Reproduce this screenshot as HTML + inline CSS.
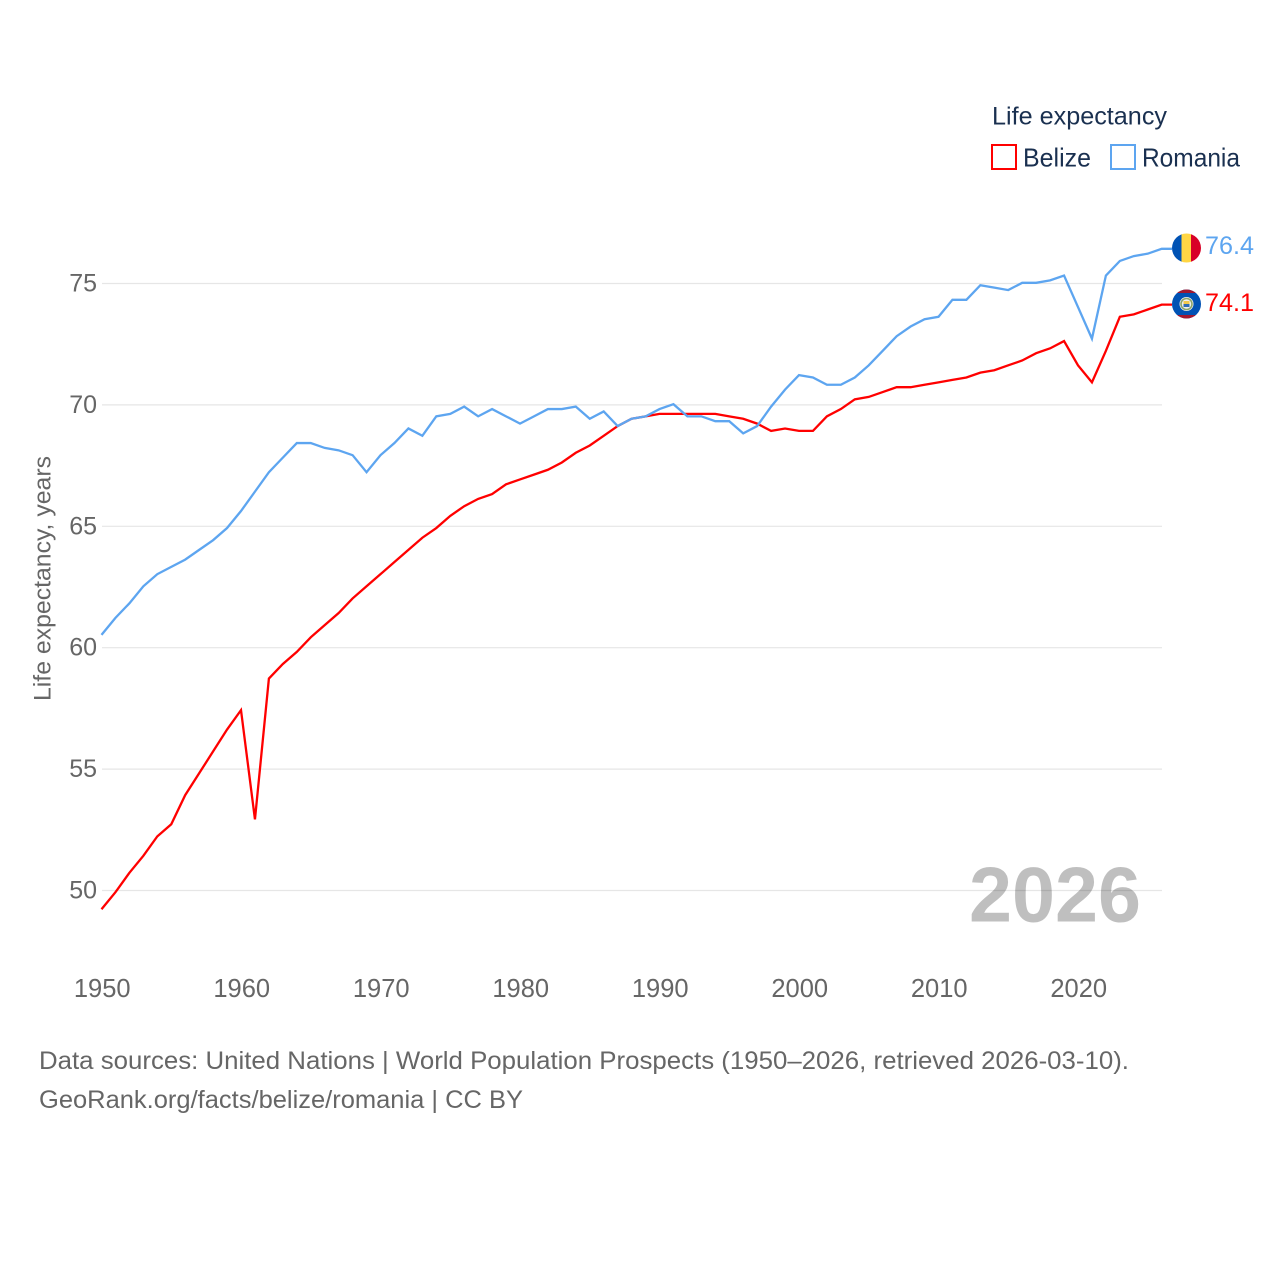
<!DOCTYPE html>
<html lang="en">
<head>
<meta charset="utf-8">
<title>Life expectancy: Belize and Romania</title>
<style>
html,body{margin:0;padding:0;background:#fff;}
svg{display:block;font-family:"Liberation Sans",sans-serif;}
</style>
</head>
<body>
<svg id="chart" width="1280" height="1280" viewBox="0 0 1280 1280" xmlns="http://www.w3.org/2000/svg">
  <rect width="1280" height="1280" fill="#fff"/>
  <g id="grid"></g>
  <g id="y-ticks"></g>
  <g id="x-ticks"></g>
  <text transform="translate(50.5,701) rotate(-90)" font-size="24" fill="#666" textLength="245" lengthAdjust="spacingAndGlyphs">Life expectancy, years</text>
  <text x="969" y="921.5" font-size="78" font-weight="700" fill="#000" fill-opacity="0.25" textLength="172" lengthAdjust="spacingAndGlyphs">2026</text>
  <g id="series" transform="translate(0,-0.7)"></g>

  <g>
    <text x="992" y="124.5" font-size="25" fill="#1a3050" textLength="175" lengthAdjust="spacingAndGlyphs">Life expectancy</text>
    <rect x="992" y="145" width="24" height="24" fill="none" stroke="#ff0000" stroke-width="2"/>
    <text x="1023" y="166.5" font-size="26" fill="#1a3050" textLength="68" lengthAdjust="spacingAndGlyphs">Belize</text>
    <rect x="1111" y="145" width="24" height="24" fill="none" stroke="#5da5f0" stroke-width="2"/>
    <text x="1142" y="166.5" font-size="26" fill="#1a3050" textLength="98" lengthAdjust="spacingAndGlyphs">Romania</text>
  </g>

  <defs>
    <clipPath id="flag-clip-ro"><circle cx="1186.5" cy="248" r="14.5"/></clipPath>
    <clipPath id="flag-clip-bz"><circle cx="1186.5" cy="304" r="14.5"/></clipPath>
  </defs>
  <g clip-path="url(#flag-clip-ro)">
    <rect x="1172" y="233" width="10" height="30" fill="#0052b4"/>
    <rect x="1181.5" y="233" width="10" height="30" fill="#ffd644"/>
    <rect x="1191" y="233" width="11" height="30" fill="#d80027"/>
  </g>
  <g clip-path="url(#flag-clip-bz)">
    <rect x="1172" y="289" width="30" height="30" fill="#0052b4"/>
    <rect x="1172" y="289" width="30" height="4" fill="#a2182f"/>
    <rect x="1172" y="315" width="30" height="4" fill="#a2182f"/>
    <circle cx="1186.5" cy="304" r="7" fill="#f0f0f0"/>
    <circle cx="1186.5" cy="304" r="5.5" fill="none" stroke="#8aa66a" stroke-width="1.6"/>
    <rect x="1183.5" y="301" width="6" height="3" fill="#f2c94c"/>
    <rect x="1183.5" y="304" width="6" height="3" fill="#2f6db5"/>
  </g>
  <text x="1205" y="254" font-size="25" fill="#5da5f0" textLength="49" lengthAdjust="spacingAndGlyphs">76.4</text>
  <text x="1205" y="311" font-size="25" fill="#ff0000" textLength="49" lengthAdjust="spacingAndGlyphs">74.1</text>

  <g>
    <text x="39" y="1069" font-size="25" fill="#666" textLength="1090" lengthAdjust="spacingAndGlyphs">Data sources: United Nations | World Population Prospects (1950–2026, retrieved 2026-03-10).</text>
    <text x="39" y="1108" font-size="25" fill="#666" textLength="484" lengthAdjust="spacingAndGlyphs">GeoRank.org/facts/belize/romania | CC BY</text>
  </g>
</svg>
<script>
var startYear = 1950;
var yTickValues = [50, 55, 60, 65, 70, 75];
var xTickValues = [1950, 1960, 1970, 1980, 1990, 2000, 2010, 2020];
var belizeValues = [
  49.2, 49.9, 50.7, 51.4, 52.2, 52.7, 53.9, 54.8, 55.7, 56.6,
  57.4, 52.9, 58.7, 59.3, 59.8, 60.4, 60.9, 61.4, 62.0, 62.5,
  63.0, 63.5, 64.0, 64.5, 64.9, 65.4, 65.8, 66.1, 66.3, 66.7,
  66.9, 67.1, 67.3, 67.6, 68.0, 68.3, 68.7, 69.1, 69.4, 69.5,
  69.6, 69.6, 69.6, 69.6, 69.6, 69.5, 69.4, 69.2, 68.9, 69.0,
  68.9, 68.9, 69.5, 69.8, 70.2, 70.3, 70.5, 70.7, 70.7, 70.8,
  70.9, 71.0, 71.1, 71.3, 71.4, 71.6, 71.8, 72.1, 72.3, 72.6,
  71.6, 70.9, 72.2, 73.6, 73.7, 73.9, 74.1
];
var romaniaValues = [
  60.5, 61.2, 61.8, 62.5, 63.0, 63.3, 63.6, 64.0, 64.4, 64.9,
  65.6, 66.4, 67.2, 67.8, 68.4, 68.4, 68.2, 68.1, 67.9, 67.2,
  67.9, 68.4, 69.0, 68.7, 69.5, 69.6, 69.9, 69.5, 69.8, 69.5,
  69.2, 69.5, 69.8, 69.8, 69.9, 69.4, 69.7, 69.1, 69.4, 69.5,
  69.8, 70.0, 69.5, 69.5, 69.3, 69.3, 68.8, 69.1, 69.9, 70.6,
  71.2, 71.1, 70.8, 70.8, 71.1, 71.6, 72.2, 72.8, 73.2, 73.5,
  73.6, 74.3, 74.3, 74.9, 74.8, 74.7, 75.0, 75.0, 75.1, 75.3,
  74.0, 72.7, 75.3, 75.9, 76.1, 76.2, 76.4
];

var NS = 'http://www.w3.org/2000/svg';
function xScale(year) { return 101.5 + (year - 1950) * 13.95; }
function yScale(v) { return 890.5 - (v - 50) * 24.28; }

var gridGroup = document.getElementById('grid');
var yGroup = document.getElementById('y-ticks');
var xGroup = document.getElementById('x-ticks');
var seriesGroup = document.getElementById('series');

yTickValues.forEach(function (v) {
  var line = document.createElementNS(NS, 'line');
  
  
  line.setAttribute('x1', 102);
  line.setAttribute('x2', 1162);
  line.setAttribute('y1', yScale(v));
  line.setAttribute('y2', yScale(v));
  line.setAttribute('stroke', '#e6e6e6');
  line.setAttribute('stroke-width', 1.2);
  gridGroup.appendChild(line);

  var label = document.createElementNS(NS, 'text');
  
  
  label.setAttribute('x', 97);
  label.setAttribute('y', yScale(v) + 8);
  label.setAttribute('text-anchor', 'end');
  label.setAttribute('font-size', 25);
  label.setAttribute('fill', '#666');
  label.textContent = v;
  yGroup.appendChild(label);
});

xTickValues.forEach(function (year) {
  var label = document.createElementNS(NS, 'text');
  
  
  label.setAttribute('x', xScale(year) + 0.7);
  label.setAttribute('y', 997);
  label.setAttribute('text-anchor', 'middle');
  label.setAttribute('font-size', 25.5);
  label.setAttribute('fill', '#666');
  label.textContent = year;
  xGroup.appendChild(label);
});

function seriesPath(values, extendTo) {
  var d = values.map(function (v, i) {
    return (i ? 'L' : 'M') + xScale(startYear + i).toFixed(2) + ' ' + yScale(v).toFixed(2);
  }).join(' ');
  return d + ' L' + extendTo + ' ' + yScale(values[values.length - 1]).toFixed(2);
}

var belizeLine = document.createElementNS(NS, 'path');


belizeLine.setAttribute('d', seriesPath(belizeValues, 1172));
belizeLine.setAttribute('fill', 'none');
belizeLine.setAttribute('stroke', '#ff0000');
belizeLine.setAttribute('stroke-width', 2.3);
seriesGroup.appendChild(belizeLine);

var romaniaLine = document.createElementNS(NS, 'path');


romaniaLine.setAttribute('d', seriesPath(romaniaValues, 1172));
romaniaLine.setAttribute('fill', 'none');
romaniaLine.setAttribute('stroke', '#5da5f0');
romaniaLine.setAttribute('stroke-width', 2.3);
seriesGroup.appendChild(romaniaLine);
</script>
</body>
</html>
